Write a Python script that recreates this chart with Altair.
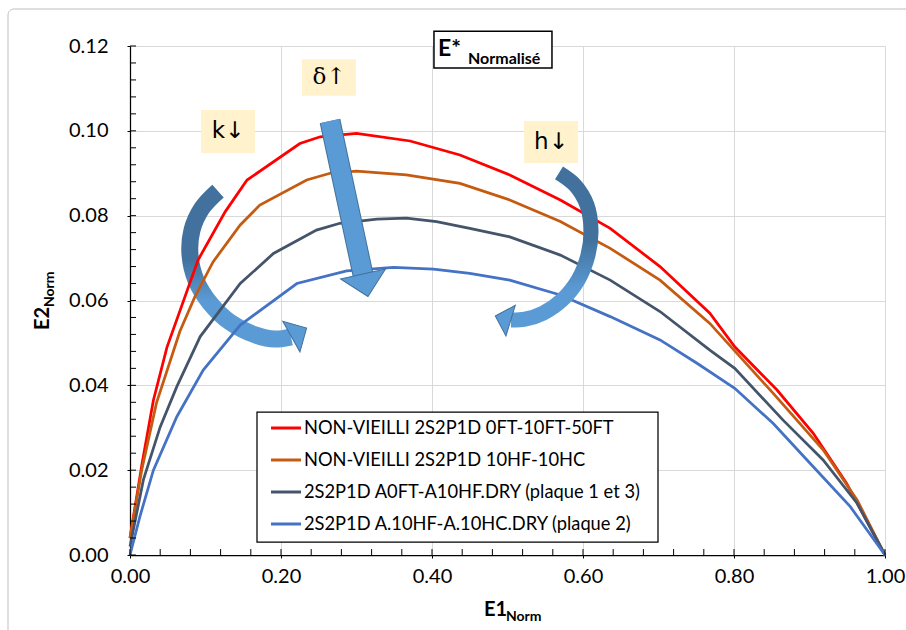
import altair as alt
import pandas as pd

# ---------------- data ----------------
SERIES = [
    "NON-VIEILLI 2S2P1D 0FT-10FT-50FT",
    "NON-VIEILLI 2S2P1D 10HF-10HC",
    "2S2P1D A0FT-A10HF.DRY (plaque 1 et 3)",
    "2S2P1D A.10HF-A.10HC.DRY (plaque 2)",
]
COLORS = ["#FF0000", "#C55A11", "#44546A", "#4472C4"]

red_x = [0.0, 0.016, 0.031, 0.049, 0.090, 0.126, 0.155, 0.225, 0.252, 0.300, 0.371, 0.437,
         0.503, 0.570, 0.636, 0.702, 0.768, 0.801, 0.857, 0.905, 0.949, 1.0]
red_y = [0.0040, 0.0216, 0.0365, 0.0490, 0.0695, 0.0809, 0.0884, 0.0970, 0.0986, 0.0994, 0.0976,
         0.0943, 0.0896, 0.0837, 0.0770, 0.0680, 0.0570, 0.0491, 0.0389, 0.0287, 0.0169, 0.0]

orange_x = [0.0, 0.0155, 0.035, 0.066, 0.086, 0.110, 0.146, 0.172, 0.234, 0.265, 0.300, 0.366,
            0.437, 0.503, 0.570, 0.636, 0.702, 0.768, 0.852, 0.918, 0.963, 1.0]
orange_y = [0.0040, 0.0200, 0.0358, 0.0527, 0.0609, 0.0691, 0.0778, 0.0825, 0.0884, 0.0900, 0.0905,
            0.0896, 0.0876, 0.0837, 0.0786, 0.0723, 0.0648, 0.0546, 0.0381, 0.0248, 0.0130, 0.0]

dark_x = [0.0, 0.0177, 0.040, 0.062, 0.093, 0.146, 0.190, 0.247, 0.278, 0.327, 0.366, 0.406,
          0.450, 0.503, 0.570, 0.636, 0.702, 0.768, 0.801, 0.865, 0.918, 0.963, 1.0]
dark_y = [0.0020, 0.0177, 0.0302, 0.0397, 0.0515, 0.0640, 0.0711, 0.0766, 0.0782, 0.0792, 0.0794,
          0.0786, 0.0770, 0.0750, 0.0707, 0.0648, 0.0574, 0.0483, 0.0440, 0.0318, 0.0224, 0.0122, 0.0]

blue_x = [0.0, 0.013, 0.031, 0.062, 0.097, 0.146, 0.221, 0.287, 0.349, 0.402, 0.450, 0.503,
          0.570, 0.636, 0.702, 0.751, 0.801, 0.852, 0.905, 0.954, 1.0]
blue_y = [0.0, 0.0090, 0.0200, 0.0326, 0.0436, 0.0542, 0.0640, 0.0670, 0.0678, 0.0674, 0.0664,
          0.0648, 0.0613, 0.0562, 0.0507, 0.0452, 0.0393, 0.0310, 0.0208, 0.0114, 0.0]

X_TICKS = [0.0, 0.2, 0.4, 0.6, 0.8, 1.0]
Y_TICKS = [0.0, 0.02, 0.04, 0.06, 0.08, 0.10, 0.12]
X_MINOR = [0.0, 0.04, 0.08, 0.12, 0.16, 0.2, 0.24, 0.28, 0.32, 0.36, 0.4, 0.44, 0.48, 0.52,
           0.56, 0.6, 0.64, 0.68, 0.72, 0.76, 0.8, 0.84, 0.88, 0.92, 0.96, 1.0]
Y_MINOR = [0.0, 0.004, 0.008, 0.012, 0.016, 0.02, 0.024, 0.028, 0.032, 0.036, 0.04, 0.044,
           0.048, 0.052, 0.056, 0.06, 0.064, 0.068, 0.072, 0.076, 0.08, 0.084, 0.088, 0.092,
           0.096, 0.1, 0.104, 0.108, 0.112, 0.116, 0.12]

# annotation arrows (data coordinates)
delta_arrow_x = [0.2649, 0.3086]
delta_arrow_y = [0.1023, 0.0661]
k_arrow_x = [0.1166, 0.0954, 0.0821, 0.0795, 0.0874, 0.1060, 0.1325, 0.1656, 0.1921, 0.2132]
k_arrow_y = [0.0858, 0.0818, 0.0766, 0.0707, 0.0648, 0.0594, 0.0549, 0.0519, 0.0509, 0.0514]
h_arrow_x = [0.5682, 0.5894, 0.6053, 0.6106, 0.6066, 0.5934, 0.5722, 0.5470, 0.5232, 0.5046]
h_arrow_y = [0.0901, 0.0872, 0.0825, 0.0766, 0.0707, 0.0648, 0.0601, 0.0570, 0.0556, 0.0554]
head_x = [0.3119, 0.2238, 0.4940]
head_y = [0.0636, 0.0525, 0.0558]
head_size = [2116, 1225, 1024]
head_angle = [167.6, 60.6, 287.0]

box_labels = ["k\u2193", "\u03b4\u2191", "h\u2193"]
box_serif = [False, True, False]
box_x1 = [0.0940, 0.2278, 0.5219]
box_x2 = [0.1656, 0.2993, 0.5934]
box_y1 = [0.0948, 0.1083, 0.0924]
box_y2 = [0.1049, 0.1169, 0.1023]

# ---------------- build tables ----------------
rows = []
for s, xs, ys in zip(SERIES, [red_x, orange_x, dark_x, blue_x], [red_y, orange_y, dark_y, blue_y]):
    for i, (a, b) in enumerate(zip(xs, ys)):
        rows.append({"serie": s, "e1": a, "e2": b, "i": i})
curves = pd.DataFrame(rows)


def path_df(xs, ys):
    return pd.DataFrame({"x": xs, "y": ys, "i": list(range(len(xs)))})


FONT = "Lato"
W, H = 755, 509
PAD_L, PAD_T = 130, 46

xscale = alt.Scale(domain=[0, 1], nice=False, zero=False)
yscale = alt.Scale(domain=[0, 0.12], nice=False, zero=False)

lines = alt.Chart(curves).mark_line(strokeWidth=2.75, clip=False).encode(
    x=alt.X("e1:Q", scale=xscale,
            axis=alt.Axis(values=X_TICKS, format=".2f", title=None, labelPadding=8, labelFlush=False)),
    y=alt.Y("e2:Q", scale=yscale,
            axis=alt.Axis(values=Y_TICKS, format=".2f", title=None, labelPadding=19, labelFlush=False)),
    color=alt.Color("serie:N", scale=alt.Scale(domain=SERIES, range=COLORS), legend=None),
    order="i:Q",
)

xminor = alt.Chart(pd.DataFrame({"v": X_MINOR})).mark_rule(
    color="black", strokeWidth=1, clip=False
).encode(x=alt.X("v:Q", scale=xscale), y=alt.datum(0), y2=alt.datum(0.0014))

yminor = alt.Chart(pd.DataFrame({"v": Y_MINOR})).mark_rule(
    color="black", strokeWidth=1, clip=False
).encode(y=alt.Y("v:Q", scale=yscale), x=alt.datum(0), x2=alt.datum(0.008))

grad_k = alt.Gradient(gradient="linear", x1=0, y1=0, x2=0, y2=1,
                      stops=[alt.GradientStop(color="#41719C", offset=0),
                             alt.GradientStop(color="#41719C", offset=0.45),
                             alt.GradientStop(color="#5B9BD5", offset=0.75),
                             alt.GradientStop(color="#5B9BD5", offset=1)])
grad_h = alt.Gradient(gradient="linear", x1=0, y1=0, x2=0, y2=1,
                      stops=[alt.GradientStop(color="#41719C", offset=0),
                             alt.GradientStop(color="#41719C", offset=0.45),
                             alt.GradientStop(color="#5B9BD5", offset=0.8),
                             alt.GradientStop(color="#5B9BD5", offset=1)])

k_shaft = alt.Chart(path_df(k_arrow_x, k_arrow_y)).mark_line(
    strokeWidth=17, strokeCap="butt", strokeJoin="round", interpolate="catmull-rom",
    color=grad_k, clip=False
).encode(x=alt.X("x:Q", scale=xscale), y=alt.Y("y:Q", scale=yscale), order="i:Q")

h_shaft = alt.Chart(path_df(h_arrow_x, h_arrow_y)).mark_line(
    strokeWidth=15, strokeCap="butt", strokeJoin="round", interpolate="catmull-rom",
    color=grad_h, clip=False
).encode(x=alt.X("x:Q", scale=xscale), y=alt.Y("y:Q", scale=yscale), order="i:Q")

d_df = path_df(delta_arrow_x, delta_arrow_y)
d_outline = alt.Chart(d_df).mark_line(
    strokeWidth=21, strokeCap="butt", color="#41719C", clip=False
).encode(x=alt.X("x:Q", scale=xscale), y=alt.Y("y:Q", scale=yscale), order="i:Q")
d_shaft = alt.Chart(d_df).mark_line(
    strokeWidth=19, strokeCap="butt", color="#5B9BD5", clip=False
).encode(x=alt.X("x:Q", scale=xscale), y=alt.Y("y:Q", scale=yscale), order="i:Q")

heads = alt.Chart(pd.DataFrame({"x": head_x, "y": head_y, "s": head_size, "a": head_angle})).mark_point(
    shape="M0,-0.5L1,0.5L-1,0.5Z", filled=True, fill="#5B9BD5", stroke="#41719C",
    strokeWidth=1, opacity=1, clip=False
).encode(x=alt.X("x:Q", scale=xscale), y=alt.Y("y:Q", scale=yscale),
         size=alt.Size("s:Q", scale=None, legend=None),
         angle=alt.Angle("a:Q", scale=None, legend=None))

boxes_df = pd.DataFrame({"lab": box_labels, "serif": box_serif,
                         "x1": box_x1, "x2": box_x2, "y1": box_y1, "y2": box_y2,
                         "xc": [(a + b) / 2 for a, b in zip(box_x1, box_x2)],
                         "yc": [(a + b) / 2 for a, b in zip(box_y1, box_y2)]})
boxes = alt.Chart(boxes_df).mark_rect(color="#FFF2CC", clip=False).encode(
    x=alt.X("x1:Q", scale=xscale), x2="x2:Q", y=alt.Y("y1:Q", scale=yscale), y2="y2:Q")
box_text_sans = alt.Chart(boxes_df[~boxes_df["serif"]]).mark_text(
    font="DejaVu Sans", fontSize=23, color="black", align="center", baseline="middle", clip=False
).encode(x=alt.X("xc:Q", scale=xscale), y=alt.Y("yc:Q", scale=yscale), text="lab:N")
box_text_serif = alt.Chart(boxes_df[boxes_df["serif"]]).mark_text(
    font="DejaVu Serif", fontSize=23, color="black", align="center", baseline="middle", clip=False
).encode(x=alt.X("xc:Q", scale=xscale), y=alt.Y("yc:Q", scale=yscale), text="lab:N")

# title box
title_box = alt.Chart(pd.DataFrame({"x1": [0.4026], "x2": [0.5589], "y1": [0.1148], "y2": [0.1235]})).mark_rect(
    fill="white", stroke="black", strokeWidth=1.5, clip=False
).encode(x=alt.X("x1:Q", scale=xscale), x2="x2:Q", y=alt.Y("y1:Q", scale=yscale), y2="y2:Q")
title_main = alt.Chart(pd.DataFrame({"x": [0.408], "y": [0.1176], "t": ["E*"]})).mark_text(
    font=FONT, fontSize=23, fontWeight="bold", color="black", align="left", baseline="alphabetic", clip=False
).encode(x=alt.X("x:Q", scale=xscale), y=alt.Y("y:Q", scale=yscale), text="t:N")
title_sub = alt.Chart(pd.DataFrame({"x": [0.4477], "y": [0.1157], "t": ["Normalisé"]})).mark_text(
    font=FONT, fontSize=16, fontWeight="bold", color="black", align="left", baseline="alphabetic", clip=False
).encode(x=alt.X("x:Q", scale=xscale), y=alt.Y("y:Q", scale=yscale), text="t:N")

# axis titles with subscripts (pixel positions relative to plot area)
e1_main = alt.Chart(pd.DataFrame({"t": ["E1"]})).mark_text(
    font=FONT, fontSize=20, fontWeight="bold", color="black", align="left", baseline="alphabetic"
).encode(x=alt.value(484 - PAD_L), y=alt.value(616 - PAD_T), text="t:N")
e1_sub = alt.Chart(pd.DataFrame({"t": ["Norm"]})).mark_text(
    font=FONT, fontSize=14, fontWeight="bold", color="black", align="left", baseline="alphabetic"
).encode(x=alt.value(506 - PAD_L), y=alt.value(621 - PAD_T), text="t:N")
e2_main = alt.Chart(pd.DataFrame({"t": ["E2"]})).mark_text(
    font=FONT, fontSize=20, fontWeight="bold", color="black", align="left", baseline="alphabetic", angle=270
).encode(x=alt.value(49 - PAD_L), y=alt.value(330 - PAD_T), text="t:N")
e2_sub = alt.Chart(pd.DataFrame({"t": ["Norm"]})).mark_text(
    font=FONT, fontSize=14, fontWeight="bold", color="black", align="left", baseline="alphabetic", angle=270
).encode(x=alt.value(54 - PAD_L), y=alt.value(307 - PAD_T), text="t:N")

# legend box (drawn by hand, pixel positions relative to the plot area)
LEG_L, LEG_T, LEG_R, LEG_B = 257, 412, 658, 542
LEG_ROWS = [428, 460, 492, 524]
legend_layers = [
    alt.Chart(pd.DataFrame({"a": [0]})).mark_rect(fill="white", stroke="black", strokeWidth=1.25).encode(
        x=alt.value(LEG_L - PAD_L), x2=alt.value(LEG_R - PAD_L),
        y=alt.value(LEG_T - PAD_T), y2=alt.value(LEG_B - PAD_T))
]
for s, c, ry in zip(SERIES, COLORS, LEG_ROWS):
    one = pd.DataFrame({"serie": [s]})
    legend_layers.append(alt.Chart(one).mark_rule(color=c, strokeWidth=3).encode(
        x=alt.value(271 - PAD_L), x2=alt.value(301 - PAD_L), y=alt.value(ry - PAD_T)))
    legend_layers.append(alt.Chart(one).mark_text(
        font=FONT, fontSize=18.3, color="black", align="left", baseline="middle").encode(
        x=alt.value(304 - PAD_L), y=alt.value(ry + 1 - PAD_T), text="serie:N"))

frame = alt.Chart(pd.DataFrame({"a": [0]})).mark_rect(
    fill="transparent", stroke="#BFBFBF", strokeWidth=1, cornerRadius=6
).encode(x=alt.value(8 - PAD_L), x2=alt.value(915 - PAD_L), y=alt.value(9 - PAD_T), y2=alt.value(650 - PAD_T))

chart = alt.layer(
    frame, k_shaft, lines, xminor, yminor, d_outline, d_shaft, h_shaft, heads,
    boxes, box_text_sans, box_text_serif, title_box, title_main, title_sub,
    e1_main, e1_sub, e2_main, e2_sub, *legend_layers
).properties(
    width=W, height=H,
    autosize=alt.AutoSizeParams(type="none"),
    padding={"left": PAD_L, "top": PAD_T, "right": 906 - PAD_L - W, "bottom": 630 - PAD_T - H},
    background="white",
).configure_view(stroke="transparent").configure_axis(
    domainColor="black", domainWidth=1.25, gridColor="#D9D9D9", gridWidth=1,
    tickColor="black", tickSize=3, labelFont=FONT, labelFontSize=20, labelColor="black",
)

chart.save("out.html", embed_options={"renderer": "svg", "actions": False})
